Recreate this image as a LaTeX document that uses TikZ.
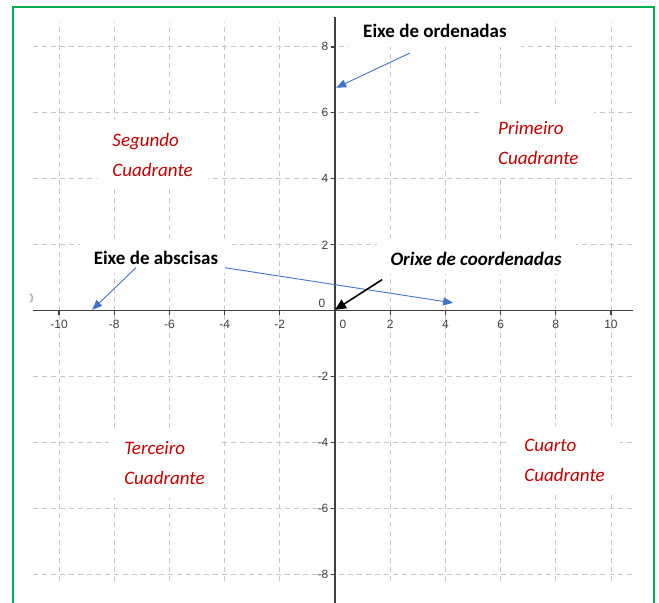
\documentclass[tikz,border=0pt]{standalone}
\usepackage{fontspec}
\setmainfont{Carlito}
\newfontfamily\geo{Liberation Sans}
\usetikzlibrary{arrows.meta}
\definecolor{azul}{HTML}{4472C4}
\definecolor{vermello}{HTML}{C00000}
\definecolor{verde}{HTML}{00B050}
\definecolor{grella}{HTML}{C8C8C8}
\definecolor{eixocor}{HTML}{404040}

\begin{document}
\begin{tikzpicture}[x=27.6pt,y=33pt,
  reixa/.style={draw=grella,dash pattern=on 5pt off 4pt,line width=0.8pt},
  eixo/.style={draw=eixocor,line width=1.3pt},
  rotulo/.style={font=\fontsize{19}{23}\selectfont\bfseries,fill=white,inner xsep=14pt,inner ysep=9pt},
  cuadrante/.style={font=\fontsize{19}{30}\selectfont\itshape,text=vermello,align=left,fill=white,inner xsep=15pt,inner ysep=13pt},
  frecha/.style={draw=azul,line width=0.9pt,-{Triangle[length=10pt,width=8pt]}},
  frechanegra/.style={draw=black,line width=1.6pt,-{Triangle[length=11pt,width=10pt]}},
  num/.style={font=\geo\fontsize{12}{12}\selectfont,text=eixocor,inner sep=1pt}]
\useasboundingbox (-12.14,-8.85) rectangle (11.74,9.42);
\draw[verde,line width=2pt] (-11.67,-8.9) -- (-11.67,9.21) -- (11.56,9.21) -- (11.56,-8.9);
% grella
\foreach \i in {-8,-6,-4,-2,2,4,6,8}
  \draw[reixa] (-10.94,\i) -- (10.8,\i);
\foreach \i in {-10,-8,-6,-4,-2,2,4,6,8,10}
  \draw[reixa] (\i,-8.2) -- (\i,8.76);
% cuadrantes
\node[cuadrante](segundo) at (-6.61,4.73){Segundo\\Cuadrante};
\node[cuadrante](primeiro) at (7.37,5.09){Primeiro\\Cuadrante};
\node[cuadrante](terceiro) at (-6.18,-4.61){Terceiro\\Cuadrante};
\node[cuadrante](cuarto) at (8.32,-4.52){Cuarto\\Cuadrante};
% eixos
\draw[eixo] (-10.94,0) -- (10.8,0);
\draw[eixo] (0,-8.9) -- (0,8.91);
\foreach \i in {-10,-8,-6,-4,-2,2,4,6,8,10}{
  \draw[eixo] (\i,0) -- (\i,-0.12);
  \node[num] at (\i,-0.42){\i};
}
\foreach \i in {-8,-6,-4,-2,2,4,6,8}{
  \draw[eixo] (0,\i) -- (-0.145,\i);
  \node[num,anchor=east] at (-0.2,\i){\i};
}
\node[num] at (0.29,-0.42){0};
\node[num] at (-0.47,0.24){0};
\draw[gray!60,line width=1.5pt] (-11.05,0.52) arc[start angle=60,end angle=-60,radius=5pt];
% rotulos e frechas
\node[rotulo](ordenadas) at (3.62,8.48){Eixe de ordenadas};
\node[rotulo](abscisas) at (-6.49,1.61){Eixe de abscisas};
\node[rotulo,font=\fontsize{19}{23}\selectfont\bfseries\itshape](orixe) at (5.11,1.58){Orixe de coordenadas};
\coordinate (ejeY) at (0.04,6.76);
\coordinate (ejeXa) at (-8.8,0.03);
\coordinate (ejeXb) at (4.28,0.24);
\coordinate (cero) at (0,0.03);
\draw[frecha] ([xshift=-25pt,yshift=-22pt]ordenadas.center) -- (ejeY);
\draw[frecha] ([xshift=-20pt,yshift=-10pt]abscisas.center) -- (ejeXa);
\draw[frecha] ([xshift=69pt,yshift=-10pt]abscisas.center) -- (ejeXb);
\draw[frechanegra] ([xshift=-94pt,yshift=-21pt]orixe.center) -- (cero);
\end{tikzpicture}
\end{document}
